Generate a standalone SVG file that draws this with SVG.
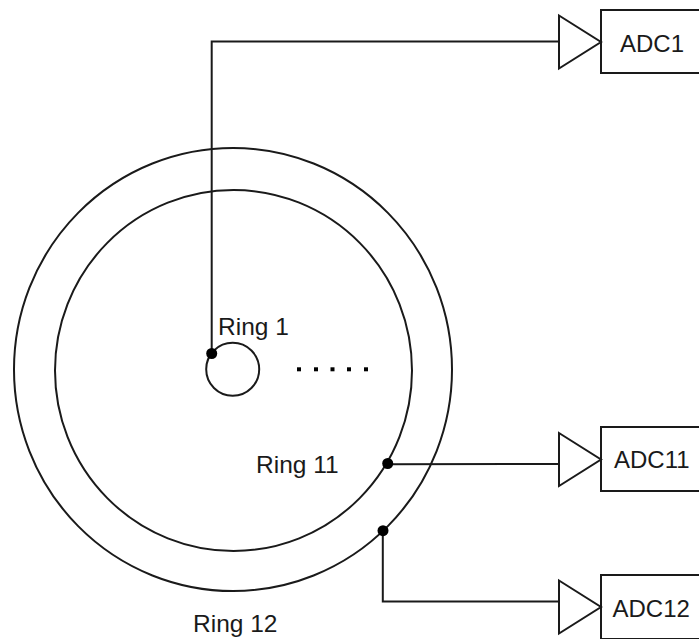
<svg xmlns="http://www.w3.org/2000/svg" width="699" height="639" viewBox="0 0 699 639">
<style>
.s{fill:none;stroke:#1a1a1a;stroke-width:2}
.w{fill:#fff;stroke:#1a1a1a;stroke-width:2}
.d{fill:#000}
text{font-family:"Liberation Sans",Arial,sans-serif;font-size:24px;fill:#1a1a1a}
.r{font-size:24.500px}
</style>
<rect width="699" height="639" fill="#fff"/>
<g id="rings">
<ellipse id="ring12" class="s" cx="233" cy="369.500" rx="219" ry="221.500"/>
<ellipse id="ring11" class="s" cx="233.500" cy="370.500" rx="178.500" ry="180.500"/>
<circle id="ring1" class="s" cx="232.700" cy="369.300" r="26.500"/>
</g>
<g id="connectors">
<polyline class="s" points="211.700,354 211.700,41.500 559,41.500"/>
<polyline class="s" points="388,464.300 559,464"/>
<polyline class="s" points="382.800,531 382.800,601.500 559,601.500"/>
<circle class="d" cx="211.700" cy="353.500" r="5.500"/>
<circle class="d" cx="387.700" cy="463.500" r="5.500"/>
<circle class="d" cx="383" cy="530.700" r="5.500"/>
</g>
<g id="ellipsis" class="d">
<rect x="297" y="367.300" width="4" height="4"/>
<rect x="314" y="367.300" width="4" height="4"/>
<rect x="330.500" y="367.300" width="4" height="4"/>
<rect x="347" y="367.300" width="4" height="4"/>
<rect x="364" y="367.300" width="4" height="4"/>
</g>
<g id="label-ring1"><text class="r" x="218" y="335">Ring 1</text></g>
<g id="label-ring11"><text class="r" x="256" y="473">Ring 11</text></g>
<g id="label-ring12"><text class="r" x="193" y="632">Ring 12</text></g>
<g id="adc1">
<rect class="s" x="601" y="10" width="110" height="63"/>
<polygon class="w" points="559,15.500 601,42 559,68.500"/>
<text x="620" y="51.500">ADC1</text>
</g>
<g id="adc11">
<rect class="s" x="601" y="427" width="110" height="64"/>
<polygon class="w" points="559,433 601,459.500 559,486"/>
<text x="614" y="467.500">ADC11</text>
</g>
<g id="adc12">
<rect class="s" x="601" y="575" width="110" height="64"/>
<polygon class="w" points="559,580.500 601,607 559,633.500"/>
<text x="612.500" y="616.500">ADC12</text>
</g>
</svg>
